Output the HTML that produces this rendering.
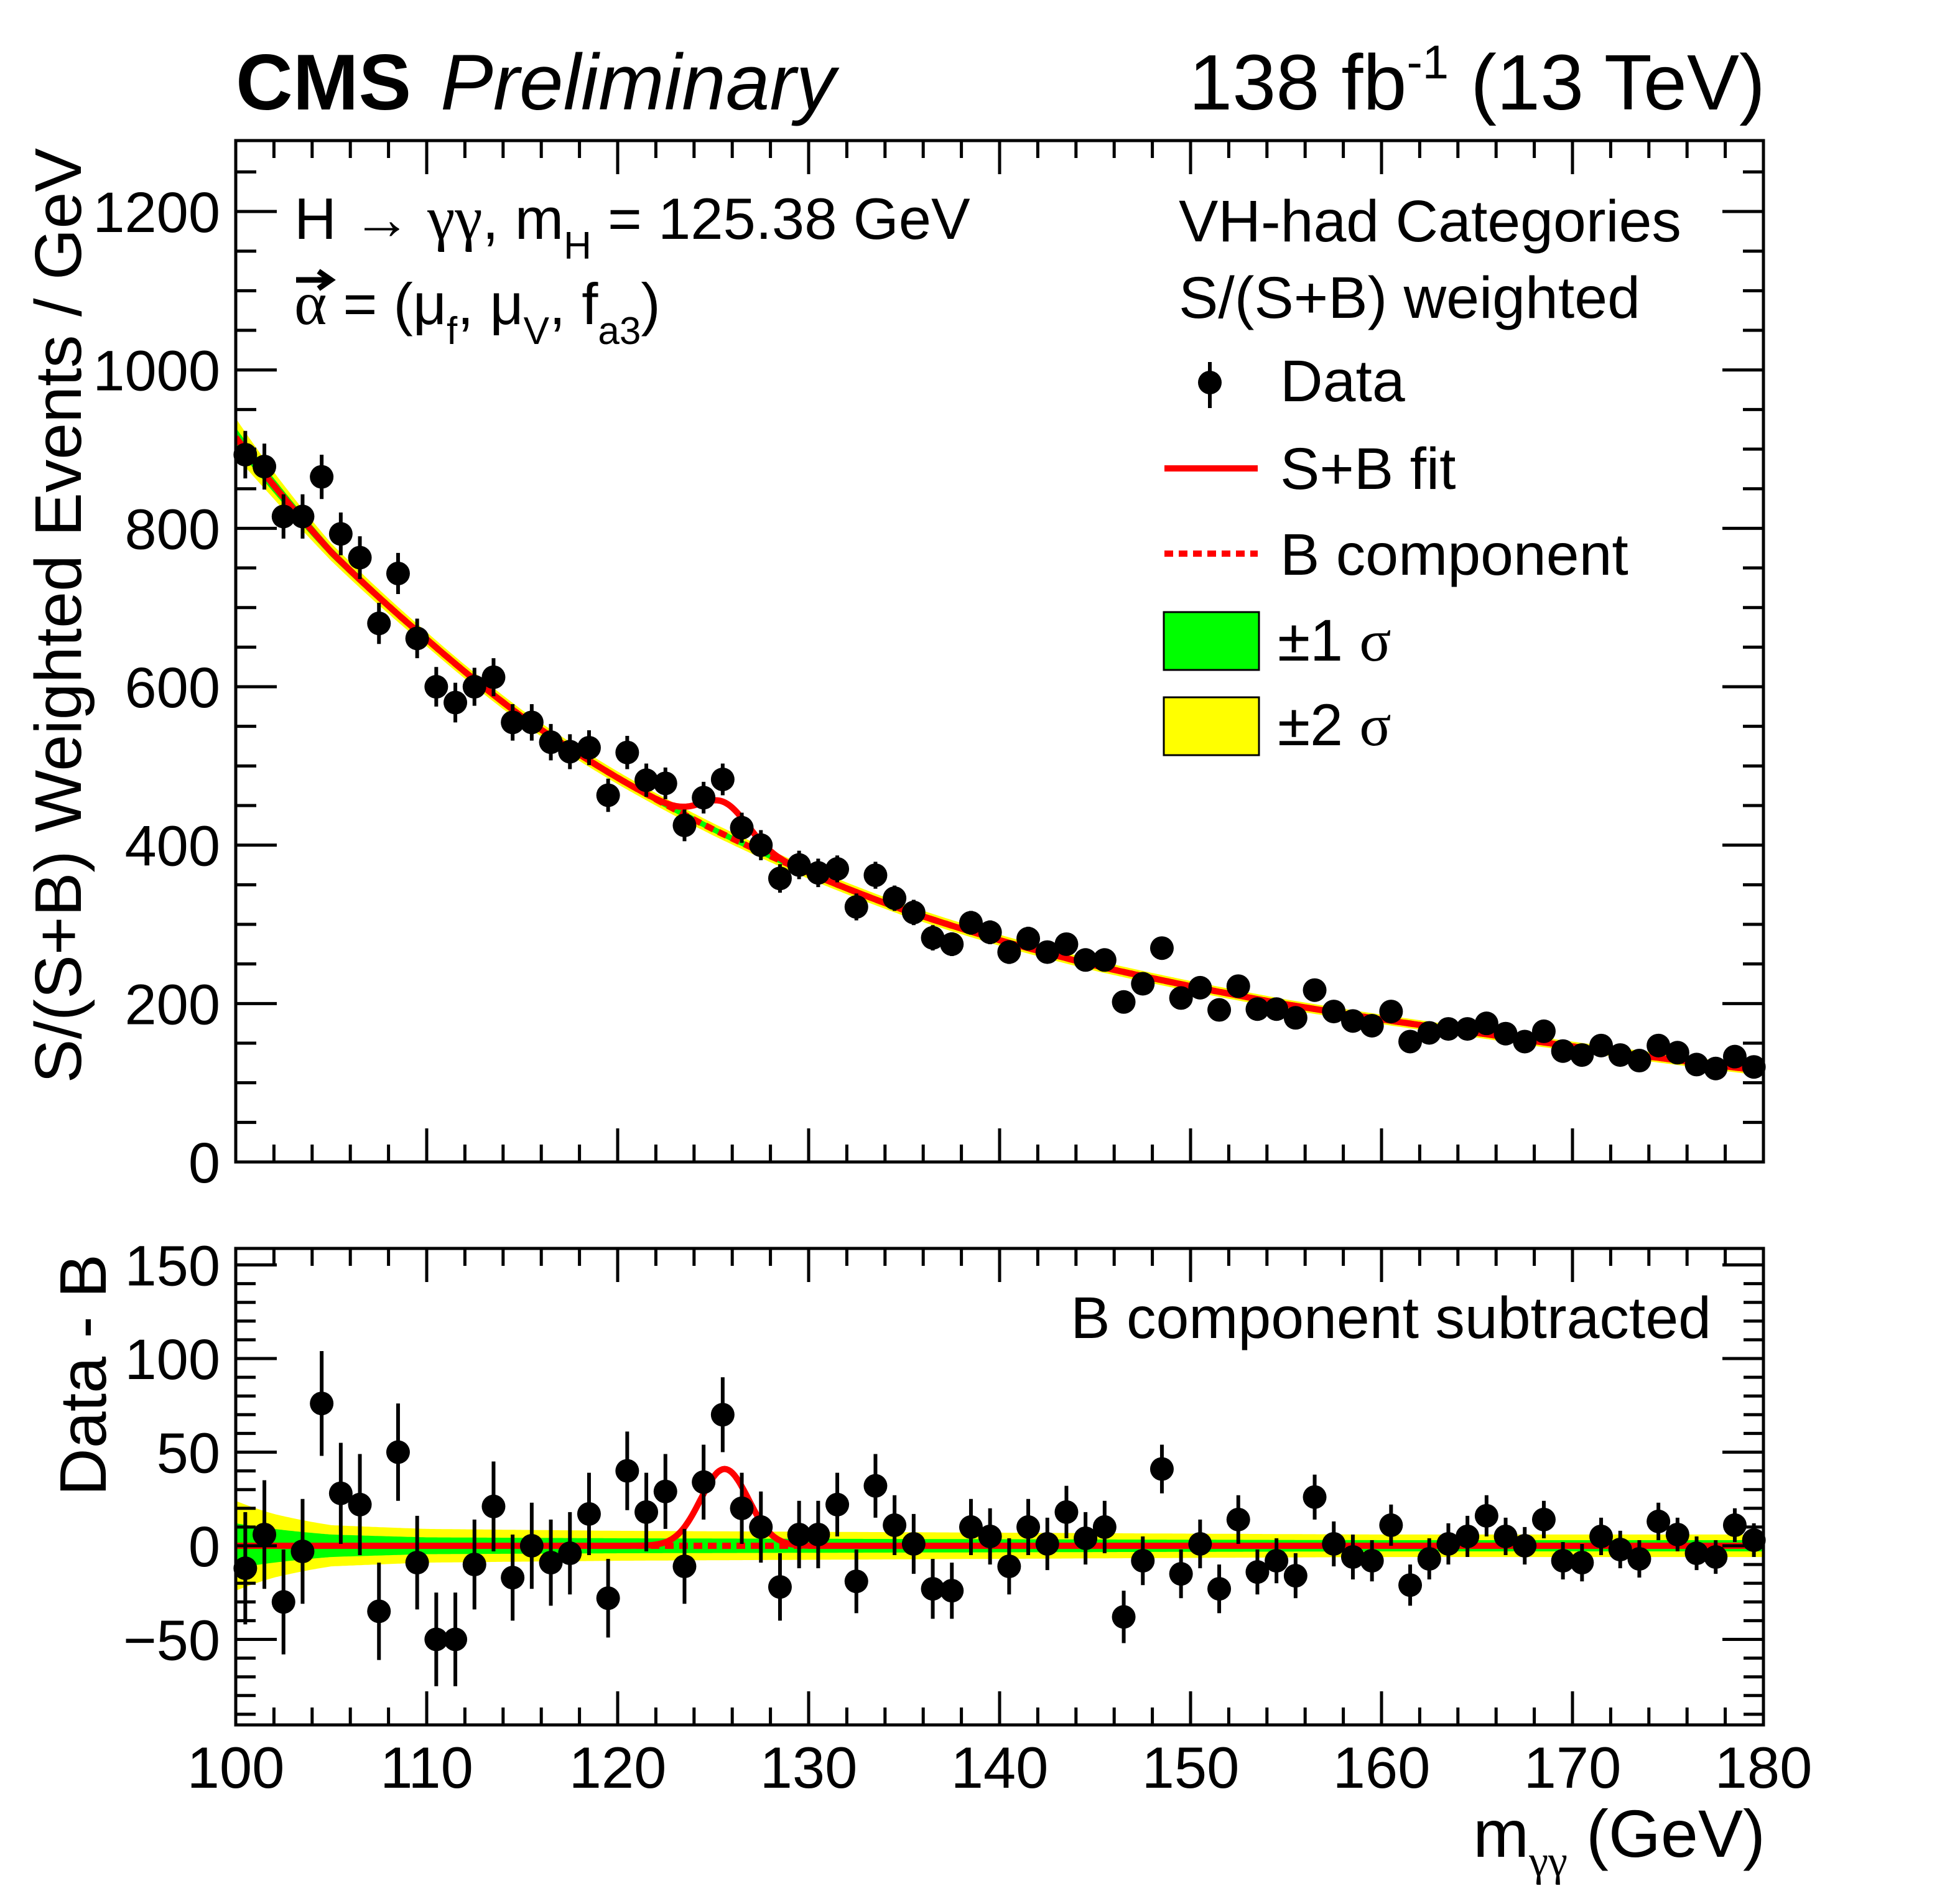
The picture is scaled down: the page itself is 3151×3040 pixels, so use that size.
<!DOCTYPE html>
<html><head><meta charset="utf-8">
<style>
html,body{margin:0;padding:0;background:#fff;}
svg{display:block;font-family:"Liberation Sans",Arial,sans-serif;}
</style></head>
<body>
<svg id="chart" width="3151" height="3040" viewBox="0 0 3151 3040" xmlns="http://www.w3.org/2000/svg">
<defs>
<clipPath id="clipTop"><rect x="379" y="226" width="2456" height="1642"/></clipPath>
<clipPath id="clipBot"><rect x="379" y="2007" width="2456" height="766"/></clipPath>
</defs>
<rect width="3151" height="3040" fill="#fff"/>
<g id="topBands" clip-path="url(#clipTop)"></g>
<g id="botBands" clip-path="url(#clipBot)"></g>
<g id="topCurves" clip-path="url(#clipTop)"></g>
<g id="botCurves" clip-path="url(#clipBot)"></g>
<g id="topData"></g>
<g id="botData"></g>
<g id="axes"></g>

<text x="379" y="176" font-size="127" font-weight="bold">CMS</text>
<text x="708" y="176" font-size="127" font-style="italic">Preliminary</text>
<text x="2838" y="176" font-size="126" text-anchor="end">138 fb<tspan dy="-50" font-size="76">-1</tspan><tspan dy="50"> (13 TeV)</tspan></text>

<text x="473" y="384" font-size="94">H → <tspan font-family="Liberation Serif, serif" font-size="100">γγ</tspan>, m<tspan dy="32" font-size="62">H</tspan><tspan dy="-32"> = 125.38 GeV</tspan></text>
<text x="473" y="521" font-size="94"><tspan font-family="Liberation Serif, serif" font-size="100">α</tspan> = (μ<tspan dy="32" font-size="62">f</tspan><tspan dy="-32">, μ</tspan><tspan dy="32" font-size="62">V</tspan><tspan dy="-32">, f</tspan><tspan dy="32" font-size="62">a3</tspan><tspan dy="-32">)</tspan></text>
<path d="M476 450 L530 450 M512 436 L532 450 L512 464" stroke="#000" stroke-width="9" fill="none"/>

<g>
<text x="1895" y="388" font-size="95">VH-had Categories</text>
<text x="1895" y="511" font-size="95">S/(S+B) weighted</text>
<g>
<line x1="1945" y1="582" x2="1945" y2="656" stroke="#000" stroke-width="6"/>
<circle cx="1945" cy="615" r="19" fill="#000"/>
<text x="2058" y="645" font-size="95">Data</text></g>
<g>
<line x1="1872" y1="753" x2="2022" y2="753" stroke="#ff0000" stroke-width="10"/>
<text x="2058" y="786" font-size="95">S+B fit</text></g>
<g>
<line x1="1872" y1="890" x2="2022" y2="890" stroke="#ff0000" stroke-width="10" stroke-dasharray="14,9"/>
<text x="2058" y="924" font-size="95">B component</text></g>
<g>
<rect x="1871" y="984" width="153" height="93" fill="#00ff00" stroke="#000" stroke-width="3"/>
<text x="2054" y="1062" font-size="95">±1 <tspan font-family="Liberation Serif, serif">σ</tspan></text></g>
<g>
<rect x="1871" y="1121" width="153" height="93" fill="#ffff00" stroke="#000" stroke-width="3"/>
<text x="2054" y="1198" font-size="95">±2 <tspan font-family="Liberation Serif, serif">σ</tspan></text></g>
</g>
<text x="2751" y="2151" font-size="95" text-anchor="end">B component subtracted</text>

<text transform="translate(130,238) rotate(-90)" font-size="106" text-anchor="end">S/(S+B) Weighted Events / GeV</text>
<text transform="translate(170,2016) rotate(-90)" font-size="106" text-anchor="end">Data - B</text>
<text x="2838" y="2985" font-size="108" text-anchor="end">m<tspan dy="30" font-size="70" font-family="Liberation Serif, serif">γγ</tspan><tspan dy="-30"> (GeV)</tspan></text>
</svg>
<script>
// ---- data ----
const binCenters = [100.5,101.5,102.5,103.5,104.5,105.5,106.5,107.5,108.5,109.5,110.5,111.5,112.5,113.5,114.5,115.5,116.5,117.5,118.5,119.5,120.5,121.5,122.5,123.5,124.5,125.5,126.5,127.5,128.5,129.5,130.5,131.5,132.5,133.5,134.5,135.5,136.5,137.5,138.5,139.5,140.5,141.5,142.5,143.5,144.5,145.5,146.5,147.5,148.5,149.5,150.5,151.5,152.5,153.5,154.5,155.5,156.5,157.5,158.5,159.5,160.5,161.5,162.5,163.5,164.5,165.5,166.5,167.5,168.5,169.5,170.5,171.5,172.5,173.5,174.5,175.5,176.5,177.5,178.5,179.5];
const dataValues = [893,878,815,815,865,793,763,680,743,661,600,580,600,612,555,555,530,518,523,463,517,482,478,425,460,483,422,400,358,375,365,370,322,362,333,315,283,275,302,290,265,282,265,275,255,255,202,225,270,207,220,192,222,193,193,182,217,190,178,172,190,152,163,168,168,175,162,152,165,140,135,147,135,128,147,138,123,118,133,120];
const residualValues = [-12,6,-30,-3,76,28,22,-35,50,-9,-50,-50,-10,21,-17,0,-9,-4,17,-28,40,18,29,-11,34,70,20,10,-22,6,6,22,-19,32,11,1,-23,-24,10,5,-11,10,1,18,4,10,-38,-8,41,-15,1,-23,14,-14,-8,-16,26,1,-6,-8,11,-21,-7,1,5,16,5,0,14,-8,-9,5,-2,-7,13,6,-4,-6,11,3];
const errorValues = [30,29,28,28,28,27,27,26,26,25,25,25,24,24,23,23,23,22,22,21,21,21,20,20,20,20,19,19,18,18,18,17,17,17,16,16,16,15,15,15,15,15,14,14,14,14,14,13,13,13,13,13,13,12,12,12,12,12,12,11,11,11,11,11,11,11,10,10,10,10,10,10,10,10,10,9,9,9,9,9];
const bkgNodesX = [100,105,110,115,120,125,130,135,140,145,150,155,160,165,170,175,180];
const bkgNodesY = [915,770,660,562,485,420,365,318,280,248,222,199,180,163,146,130,115];
const bandNodesX = [100,102,105,110,120,140,160,180];
const sigma1 = [12,9,6,4.5,4,3.5,3,3];
const sigma2 = [24,17,11,9,8,7,6,6];
const signalPeak = 41, signalMean = 125.6, signalWidth = 1.25;
const xTickLabels = [100,110,120,130,140,150,160,170,180];
const yTopTickLabels = [0,200,400,600,800,1000,1200];
const yBotTickLabels = [-50,0,50,100,150];

// ---- axes ----
const X0=379, X1=2835, XMIN=100, XMAX=180;
const TOP_T=226, TOP_B=1868, BOT_T=2007, BOT_B=2773;
const sx = v => X0 + (v-XMIN)*(X1-X0)/(XMAX-XMIN);
const syTop = v => 1868 - v*1.2733;
const syBot = v => 2485 - v*3.01;
const NS='http://www.w3.org/2000/svg';
function mk(tag, attrs, parent){const e=document.createElementNS(NS,tag);for(const k in attrs)e.setAttribute(k,attrs[k]);parent.appendChild(e);return e;}
function interp(xs, ys, x){
  if(x<=xs[0])return ys[0];
  for(let i=1;i<xs.length;i++){ if(x<=xs[i]){
      const t=(x-xs[i-1])/(xs[i]-xs[i-1]);
      if(ys[i-1]>0&&ys[i]>0) return Math.exp(Math.log(ys[i-1])*(1-t)+Math.log(ys[i])*t);
      return ys[i-1]*(1-t)+ys[i]*t;}}
  return ys[ys.length-1];
}
const bkg = m => interp(bkgNodesX,bkgNodesY,m);
const sig = m => signalPeak*Math.exp(-0.5*Math.pow((m-signalMean)/signalWidth,2));
const s1 = m => interp(bandNodesX,sigma1,m);
const s2 = m => interp(bandNodesX,sigma2,m);

const grid=[]; for(let k=0;k<=800;k++) grid.push(XMIN+k*0.1);
function bandPath(fy, base, w){
  const up=grid.map(m=>sx(m).toFixed(1)+','+fy(base(m)+w(m)).toFixed(1));
  const dn=grid.slice().reverse().map(m=>sx(m).toFixed(1)+','+fy(base(m)-w(m)).toFixed(1));
  return 'M'+up.join(' L')+' L'+dn.join(' L')+'Z';
}
function linePath(fy, f){ return 'M'+grid.map(m=>sx(m).toFixed(1)+','+fy(f(m)).toFixed(1)).join(' L'); }

const tb=document.getElementById('topBands');
let p=mk('path',{d:bandPath(syTop,bkg,s2),fill:'#ffff00'},tb);


p=mk('path',{d:bandPath(syTop,bkg,s1),fill:'#00ff00'},tb);


const tc=document.getElementById('topCurves');
p=mk('path',{d:linePath(syTop,bkg),fill:'none',stroke:'#ff0000','stroke-width':10,'stroke-dasharray':'14,9'},tc);


p=mk('path',{d:linePath(syTop,m=>bkg(m)+sig(m)),fill:'none',stroke:'#ff0000','stroke-width':10},tc);



const bb=document.getElementById('botBands');
const zero=()=>0;
p=mk('path',{d:bandPath(syBot,zero,s2),fill:'#ffff00'},bb);


p=mk('path',{d:bandPath(syBot,zero,s1),fill:'#00ff00'},bb);


const bc=document.getElementById('botCurves');
p=mk('path',{d:linePath(syBot,zero),fill:'none',stroke:'#ff0000','stroke-width':10,'stroke-dasharray':'14,9'},bc);


p=mk('path',{d:linePath(syBot,sig),fill:'none',stroke:'#ff0000','stroke-width':10},bc);



const td=document.getElementById('topData'), bd=document.getElementById('botData');
binCenters.forEach((m,i)=>{
  const x=sx(m), e=errorValues[i];
  let g=mk('g',{},td);
  
  
  mk('line',{x1:x,x2:x,y1:syTop(dataValues[i]+e),y2:syTop(dataValues[i]-e),stroke:'#000','stroke-width':6},g);
  mk('circle',{cx:x,cy:syTop(dataValues[i]),r:19,fill:'#000'},g);
  g=mk('g',{},bd);
  
  
  mk('line',{x1:x,x2:x,y1:syBot(residualValues[i]+e),y2:syBot(residualValues[i]-e),stroke:'#000','stroke-width':6},g);
  mk('circle',{cx:x,cy:syBot(residualValues[i]),r:19,fill:'#000'},g);
});

const ax=document.getElementById('axes');
function frame(t,b,name){const r=mk('rect',{x:X0,y:t,width:X1-X0,height:b-t,fill:'none',stroke:'#000','stroke-width':5},ax);
  
  }
frame(TOP_T,TOP_B,'top-frame'); frame(BOT_T,BOT_B,'bottom-frame');
let d='';
function xticks(t,b){
  for(let m=XMIN;m<=XMAX;m+=2){const x=sx(m);const L=(m%10===0)?54:28;
    d+='M'+x+' '+b+'V'+(b-L)+'M'+x+' '+t+'V'+(t+L);}
}
xticks(TOP_T,TOP_B); xticks(BOT_T,BOT_B);
for(let v=0;v<=1290;v+=50){const y=syTop(v);const L=(v%200===0)?66:33;d+='M'+X0+' '+y+'H'+(X0+L)+'M'+X1+' '+y+'H'+(X1-L);}
for(let v=-90;v<=158;v+=10){const y=syBot(v);const L=(v%50===0)?66:32;d+='M'+X0+' '+y+'H'+(X0+L)+'M'+X1+' '+y+'H'+(X1-L);}
p=mk('path',{d:d,stroke:'#000','stroke-width':5,fill:'none'},ax);



xTickLabels.forEach(v=>{const t=mk('text',{x:sx(v),y:2874,'font-size':94,'text-anchor':'middle'},ax);t.textContent=v;
  
  });
yTopTickLabels.forEach(v=>{const t=mk('text',{x:354,y:syTop(v)+33,'font-size':92,'text-anchor':'end'},ax);t.textContent=v;
  
  });
yBotTickLabels.forEach(v=>{const t=mk('text',{x:354,y:syBot(v)+33,'font-size':92,'text-anchor':'end'},ax);t.textContent=(v<0?'\u2212'+(-v):v);
  
  });
</script>
</body></html>
